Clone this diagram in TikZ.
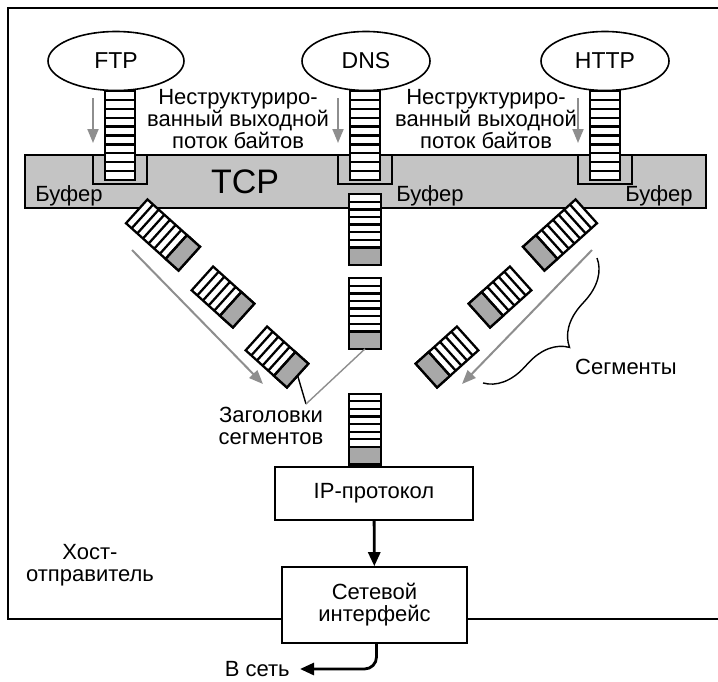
\documentclass[tikz,border=0pt]{standalone}
\usepackage{fontspec}
\setmainfont{Liberation Sans}
\usetikzlibrary{arrows.meta,positioning,calc,decorations.pathreplacing,shapes.geometric}
\definecolor{tcpgray}{HTML}{C4C4C4}
\definecolor{hdrgray}{HTML}{A8A8A8}
\definecolor{flowgray}{HTML}{8E8E8E}
% one TCP segment: centre, angle, stripes, name of its front point
\newcommand{\seg}[4]{%
  \begin{scope}[shift={#1}, rotate=#2]
    \pgfmathsetmacro{\segh}{#3*7.6/2+8.75}
    \filldraw[fill=white, segline] (-16,-\segh) rectangle (16,\segh);
    \filldraw[fill=hdrgray, segline] (-16,\segh-17.5) rectangle (16,\segh);
    \foreach \k in {1,...,#3}
      \draw[segline] (-16,-\segh+\k*7.6) -- (16,-\segh+\k*7.6);
    \coordinate (#4) at (0,\segh);
  \end{scope}}

\begin{document}
\begin{tikzpicture}[x=0.5pt, y=-0.5pt,
  app/.style={draw, ellipse, fill=white, line width=0.8pt, minimum width=64pt,
    minimum height=29.5pt, inner sep=0pt, font=\fontsize{11.5}{12}\selectfont},
  box/.style={draw, fill=white, line width=0.8pt, align=center,
    font=\fontsize{11}{11}\selectfont},
  lab/.style={font=\fontsize{11}{11}\selectfont, align=center, inner sep=0pt},
  segline/.style={line width=1.15pt},
  flow/.style={flowgray, line width=1pt, -{Triangle[width=5.5pt,length=7pt]}},
  bigarrow/.style={line width=1.4pt, -{Triangle[width=6pt,length=7pt]}}
]
\useasboundingbox (0,0) rectangle (718,681);
% host frame and TCP layer
\draw[line width=0.8pt] (8,8) rectangle (740,619);
\filldraw[fill=tcpgray, line width=0.7pt] (25,155) rectangle (706,208);
\node[font=\fontsize{17}{17}\selectfont, inner sep=0pt] (tcp) at (245,182) {TCP};

% byte streams into the buffers
\foreach \sx in {120,365,605} {
  \draw[segline] (\sx-27,155) -- (\sx-27,184) -- (\sx+27,184) -- (\sx+27,155);
  \filldraw[fill=white, segline] (\sx-15,91) rectangle (\sx+15,180);
  \foreach \k in {1,...,9}
    \draw[segline] (\sx-15,91+\k*8.9) -- (\sx+15,91+\k*8.9);
}
\node[app, minimum width=68pt] (ftp) at (116,61) {FTP};
\node[app] (dns) at (366,61) {DNS};
\node[app] (http) at (605,61) {HTTP};
\draw[flow] (93,98) -- (93,143);
\draw[flow] (338,98) -- (338,143);
\draw[flow] (578,98) -- (578,143);
\node[lab] (strm1) at (238,119) {Неструктуриро-\\ванный выходной\\поток байтов};
\node[lab] (strm2) at (486,119) {Неструктуриро-\\ванный выходной\\поток байтов};
\node[lab, anchor=west] (buf1) at (35,196) {Буфер};
\node[lab, anchor=west] (buf2) at (396,196) {Буфер};
\node[lab, anchor=west] (buf3) at (625,196) {Буфер};

% segments
\seg{(163,235)}{48}{7}{L1}
\seg{(223,297)}{48}{5}{L2}
\seg{(277,357)}{48}{5}{L3}
\seg{(365,229.5)}{0}{7}{D1}
\seg{(365,313.5)}{0}{7}{D2}
\seg{(365,429)}{0}{7}{D3}
\seg{(560,235)}{-48}{7}{R1}
\seg{(500,297)}{-48}{5}{R2}
\seg{(447,357)}{-48}{5}{R3}
\draw[flow] (132,250) -- (263,384);
\draw[flow] (592,250) -- (462,384);
\draw[decorate, decoration={brace, amplitude=20pt}, line width=0.7pt] (597,258) -- (483,383);
\node[lab] (segs) at (626,367) {Сегменты};

\coordinate (hdrtip) at (306,404);
\draw[line width=0.7pt] (L3) -- (hdrtip);
\draw[flowgray, line width=0.7pt] (D2) -- (hdrtip);
\node[lab] (hdrs) at (271,426) {Заголовки\\сегментов};

% lower layers
\node[box, minimum width=99pt, minimum height=26.5pt] (ip) at (374,493.5) {IP-протокол};
\node[box, minimum width=92.5pt, minimum height=38pt] (net) at (374.5,605) {Сетевой\\интерфейс};
\draw[bigarrow] (ip) -- (net);
\node[lab, anchor=east] (out) at (290,669) {В сеть};
\draw[bigarrow, rounded corners=6pt] ([xshift=1pt]net.south) |- ([xshift=5pt]out.east);
\node[lab] (host) at (90,565) {Хост-\\отправитель};
\end{tikzpicture}
\end{document}
